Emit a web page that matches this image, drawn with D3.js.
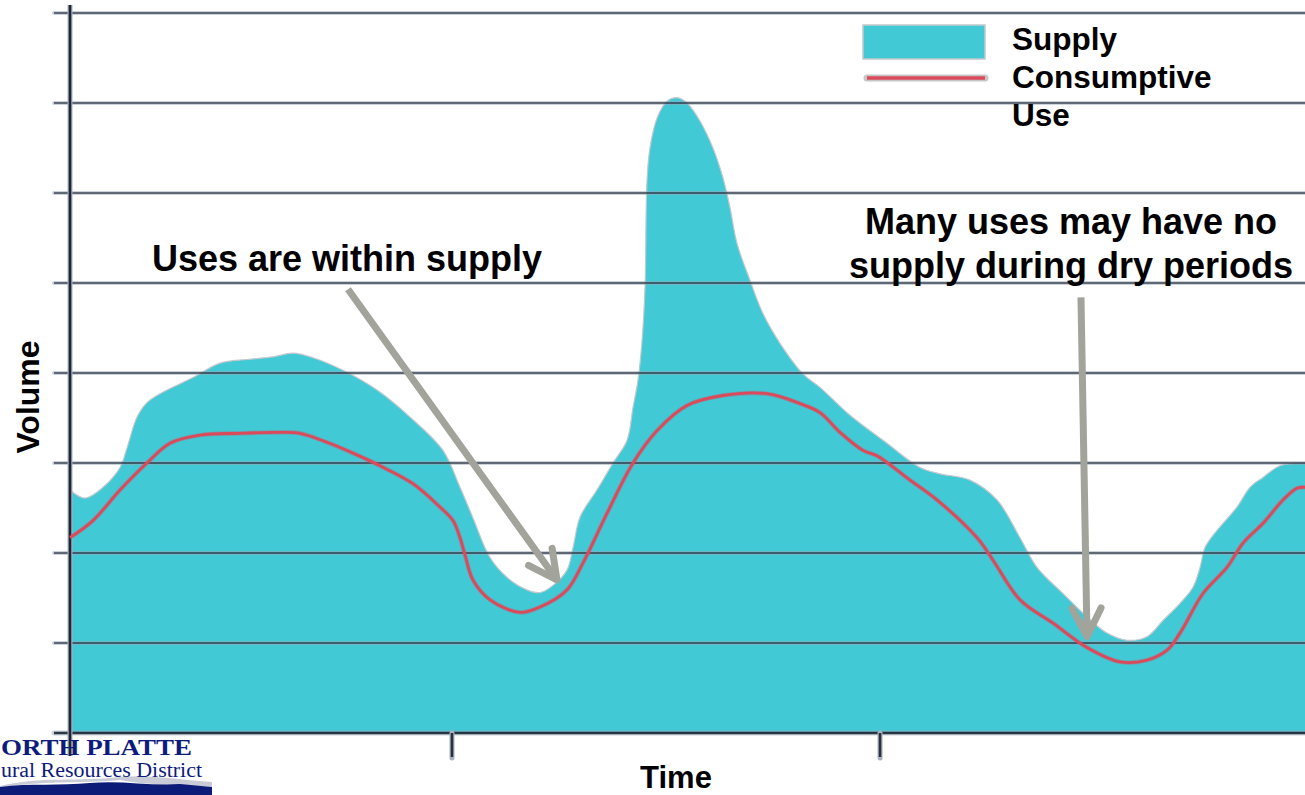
<!DOCTYPE html>
<html>
<head>
<meta charset="utf-8">
<script src="https://cdn.jsdelivr.net/npm/d3@7"></script>
<style>
  html, body { margin: 0; padding: 0; background: #ffffff; }
  svg { display: block; }
</style>
</head>
<body>
<svg id="chart" width="1305" height="795"></svg>
<script>
// ---------- DATA ----------
const supplyTime = [0, 1.21, 2.67, 4.05, 4.62, 5.43, 6.23, 7.29, 9.96, 12.15, 14.33, 16.44, 18.06, 19.68, 22.11, 24.86, 27.53, 30.2, 31.58, 32.63, 34.01, 35.38, 37.0, 38.06, 39.11, 40.24, 40.73, 41.3, 42.67, 43.97, 45.1, 45.59, 45.99, 46.32, 46.56, 46.72, 46.96, 47.53, 48.34, 49.15, 49.96, 51.01, 52.06, 52.87, 53.44, 54.01, 55.06, 56.11, 57.49, 59.35, 60.73, 63.16, 66.15, 68.83, 70.45, 72.87, 75.06, 76.92, 78.3, 80.4, 82.35, 83.97, 85.59, 87.21, 88.5, 89.88, 90.93, 91.5, 91.9, 92.87, 94.49, 95.55, 96.6, 97.98, 100];
const supplyVolume = [2.70, 2.61, 2.73, 2.95, 3.17, 3.51, 3.67, 3.77, 3.95, 4.11, 4.15, 4.18, 4.22, 4.17, 4.03, 3.81, 3.51, 3.14, 2.73, 2.39, 1.95, 1.73, 1.59, 1.56, 1.64, 1.81, 2.06, 2.40, 2.70, 3.00, 3.25, 3.62, 3.92, 4.36, 4.95, 6.14, 6.50, 6.83, 7.02, 7.06, 7.00, 6.80, 6.50, 6.17, 5.84, 5.44, 5.03, 4.66, 4.33, 3.99, 3.84, 3.53, 3.22, 2.95, 2.88, 2.81, 2.59, 2.17, 1.84, 1.55, 1.29, 1.11, 1.03, 1.07, 1.25, 1.44, 1.62, 1.84, 2.06, 2.25, 2.51, 2.73, 2.84, 2.97, 3.00];

const useTime = [0, 1.86, 4.05, 6.23, 8.1, 10.53, 13.77, 16.76, 18.62, 20.81, 22.91, 25.1, 27.77, 29.96, 31.01, 31.58, 31.98, 32.63, 34.01, 36.44, 38.06, 40.24, 41.54, 43.48, 45.59, 47.53, 49.96, 52.87, 56.44, 59.11, 60.73, 62.35, 64.21, 65.34, 68.02, 70.2, 73.44, 74.74, 76.92, 79.6, 82.35, 85.02, 87.21, 88.83, 89.88, 91.74, 93.68, 94.98, 96.6, 98.22, 99.35, 100];
const useVolume = [2.17, 2.36, 2.70, 3.00, 3.22, 3.31, 3.33, 3.34, 3.33, 3.23, 3.11, 2.97, 2.77, 2.51, 2.36, 2.17, 1.98, 1.70, 1.48, 1.34, 1.40, 1.59, 1.89, 2.44, 3.00, 3.36, 3.64, 3.75, 3.77, 3.66, 3.56, 3.34, 3.14, 3.08, 2.81, 2.59, 2.17, 1.92, 1.48, 1.22, 0.95, 0.79, 0.81, 0.92, 1.11, 1.55, 1.84, 2.11, 2.33, 2.59, 2.72, 2.73];

const volumeTicks = [0, 1, 2, 3, 4, 5, 6, 7, 8];
const timeTicks = [30.93, 65.59];

const legendLabels = ["Supply", "Consumptive", "Use"];
const annotationLeft = ["Uses are within supply"];
const annotationRight = ["Many uses may have no", "supply during dry periods"];
// arrows: [startTime, startVolume, endTime, endVolume]
const arrowLeft = [22.51, 4.93, 39.43, 1.70];
const arrowRight = [81.86, 4.84, 82.35, 1.07];
const axisTitles = { x: "Time", y: "Volume" };
const logoLines = ["ORTH PLATTE", "ural Resources District"];

// ---------- DRAW ----------
const svg = d3.select("#chart");
const W = 1305, H = 795;
const x = d3.scaleLinear().domain([0, 100]).range([70, 1305]);
const y = d3.scaleLinear().domain([0, 8]).range([733, 13]);

const CYAN = "#42c9d6";
const RED = "#db4a5b";
const GRAY_ARROW = "#a2a39a";
const BOLD = "'Liberation Sans', Arial, Helvetica, sans-serif";
const SERIF = "'Liberation Serif', 'Times New Roman', serif";

const supply = supplyTime.map((t, i) => ({ t, v: supplyVolume[i] }));
const use = useTime.map((t, i) => ({ t, v: useVolume[i] }));

// supply area
const area = d3.area().x(d => x(d.t)).y0(y(0)).y1(d => y(d.v)).curve(d3.curveCatmullRom.alpha(0.5));
svg.append("path").datum(supply).attr("d", area).attr("fill", CYAN);
const supLine = d3.line().x(d => x(d.t)).y(d => y(d.v)).curve(d3.curveCatmullRom.alpha(0.5));
svg.append("path").datum(supply).attr("d", supLine)
  .attr("fill", "none").attr("stroke", "#c3c9cc").attr("stroke-width", 1.2);

// gridlines (drawn over area) with left tick extension
const grid = svg.append("g");
volumeTicks.forEach(v => {
  const yy = y(v);
  grid.append("line").attr("x1", 54).attr("x2", W).attr("y1", yy).attr("y2", yy)
    .attr("stroke", "#9aa6b8").attr("stroke-opacity", 0.5).attr("stroke-width", v === 0 ? 5 : 4)
    .attr("stroke-linecap", "round");
  grid.append("line").attr("x1", 54).attr("x2", W).attr("y1", yy).attr("y2", yy)
    .attr("stroke", "#1c2533").attr("stroke-opacity", v === 0 ? 0.9 : 0.62).attr("stroke-width", v === 0 ? 2.6 : 1.8);
});

// x ticks (below baseline)
timeTicks.forEach(t => {
  svg.append("line").attr("x1", x(t)).attr("x2", x(t)).attr("y1", y(0)).attr("y2", 758)
    .attr("stroke", "#aab2bf").attr("stroke-width", 5).attr("stroke-linecap", "round");
  svg.append("line").attr("x1", x(t)).attr("x2", x(t)).attr("y1", y(0)).attr("y2", 757)
    .attr("stroke", "#2a3240").attr("stroke-width", 2.6);
});

// y axis line
svg.append("line").attr("x1", x(0)).attr("x2", x(0)).attr("y1", 5).attr("y2", 756)
  .attr("stroke", "#a9b2c0").attr("stroke-width", 5);
svg.append("line").attr("x1", x(0)).attr("x2", x(0)).attr("y1", 5).attr("y2", 756)
  .attr("stroke", "#1e2633").attr("stroke-width", 2.6);

// consumptive use line
const useLine = d3.line().x(d => x(d.t)).y(d => y(d.v)).curve(d3.curveCatmullRom.alpha(0.5));
svg.append("path").datum(use).attr("d", useLine)
  .attr("fill", "none").attr("stroke", RED).attr("stroke-opacity", 0.35).attr("stroke-width", 4.5);
svg.append("path").datum(use).attr("d", useLine)
  .attr("fill", "none").attr("stroke", RED).attr("stroke-width", 2.8);

// arrows
function drawArrow(a) {
  const x1 = x(a[0]), y1 = y(a[1]), x2 = x(a[2]), y2 = y(a[3]);
  const ang = Math.atan2(y1 - y2, x1 - x2);
  const len = 32, spread = 27 * Math.PI / 180;
  const g = svg.append("g").attr("stroke", GRAY_ARROW).attr("stroke-width", 7)
    .attr("fill", "none").attr("stroke-linecap", "round").attr("stroke-linejoin", "round");
  g.append("line").attr("x1", x1).attr("y1", y1).attr("x2", x2).attr("y2", y2).attr("stroke-linecap", "butt");
  g.append("path").attr("d",
    `M${x2 + len * Math.cos(ang + spread)},${y2 + len * Math.sin(ang + spread)}L${x2},${y2}L${x2 + len * Math.cos(ang - spread)},${y2 + len * Math.sin(ang - spread)}`);
}
drawArrow(arrowLeft);
drawArrow(arrowRight);

// annotations
svg.append("text").attr("x", 347).attr("y", 271).attr("text-anchor", "middle")
  .attr("font-family", BOLD).attr("font-weight", "bold").attr("font-size", 36)
  .attr("fill", "#000").text(annotationLeft[0]);
annotationRight.forEach((s, i) => {
  svg.append("text").attr("x", 1071).attr("y", 234 + i * 44).attr("text-anchor", "middle")
    .attr("font-family", BOLD).attr("font-weight", "bold").attr("font-size", 36)
    .attr("fill", "#000").text(s);
});

// legend
svg.append("rect").attr("x", 863).attr("y", 25).attr("width", 122).attr("height", 34)
  .attr("fill", CYAN).attr("stroke", "#c4c8cc").attr("stroke-width", 1.5);
svg.append("line").attr("x1", 867).attr("x2", 985).attr("y1", 78).attr("y2", 78)
  .attr("stroke", "#c6c6c8").attr("stroke-width", 7).attr("stroke-linecap", "round");
svg.append("line").attr("x1", 867).attr("x2", 985).attr("y1", 78).attr("y2", 78)
  .attr("stroke", RED).attr("stroke-width", 3.5);
legendLabels.forEach((s, i) => {
  svg.append("text").attr("x", 1012).attr("y", 50 + i * 38)
    .attr("font-family", BOLD).attr("font-weight", "bold").attr("font-size", 31.5)
    .attr("fill", "#000").text(s);
});

// axis titles
svg.append("text").attr("x", 676).attr("y", 788).attr("text-anchor", "middle")
  .attr("font-family", BOLD).attr("font-weight", "bold").attr("font-size", 31)
  .attr("fill", "#000").text(axisTitles.x);
svg.append("text").attr("transform", "translate(39,397) rotate(-90)").attr("text-anchor", "middle")
  .attr("font-family", BOLD).attr("font-weight", "bold").attr("font-size", 32)
  .attr("fill", "#000").text(axisTitles.y);

// logo (bottom-left)
const logo = svg.append("g");
logo.append("path")
  .attr("d", "M0,786 C40,776 80,782 120,777 C150,774 180,780 212,782 L212,787 C180,784 150,786 120,780 C80,784 40,780 0,788 Z")
  .attr("fill", "#c9ccd6");
logo.append("path")
  .attr("d", "M0,795 L0,787 C30,783 60,786 90,783 C120,780 150,786 180,784 L212,787 L212,795 Z")
  .attr("fill", "#0c1a78");
logo.append("text").attr("x", 1).attr("y", 755)
  .attr("font-family", SERIF).attr("font-weight", "bold")
  .attr("font-size", 24).attr("fill", "#0d1b7c")
  .attr("textLength", 191).attr("lengthAdjust", "spacingAndGlyphs").text(logoLines[0]);
logo.append("text").attr("x", 1).attr("y", 777)
  .attr("font-family", SERIF)
  .attr("font-size", 20).attr("fill", "#0d1b7c")
  .attr("textLength", 201).attr("lengthAdjust", "spacingAndGlyphs").text(logoLines[1]);
</script>
</body>
</html>
